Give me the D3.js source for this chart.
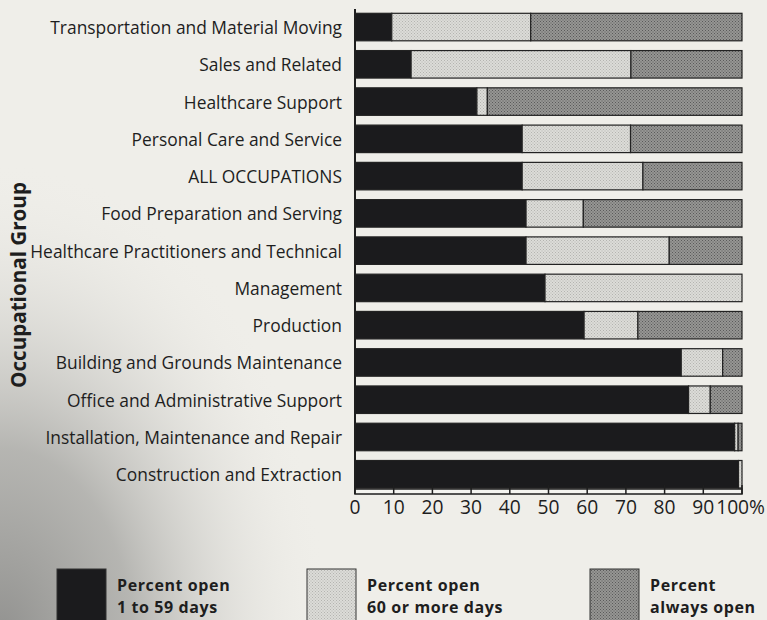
<!DOCTYPE html>
<html>
<head>
<meta charset="utf-8">
<script src="https://cdn.jsdelivr.net/npm/d3@7"></script>
<style>
  html, body { margin: 0; padding: 0; background: #efeee9; }
  svg { display: block; }
  text { font-family: "Open Sans", "DejaVu Sans", sans-serif; fill: #1e1e1e; }
</style>
</head>
<body>
<svg id="chart" width="767" height="620"></svg>
<script>
const categories = [
  "Transportation and Material Moving",
  "Sales and Related",
  "Healthcare Support",
  "Personal Care and Service",
  "ALL OCCUPATIONS",
  "Food Preparation and Serving",
  "Healthcare Practitioners and Technical",
  "Management",
  "Production",
  "Building and Grounds Maintenance",
  "Office and Administrative Support",
  "Installation, Maintenance and Repair",
  "Construction and Extraction"
];
const open1to59  = [9.5, 14.5, 31.5, 43.2, 43.2, 44.2, 44.2, 49.1, 59.2, 84.3, 86.2, 98.1, 99.1];
const open60plus = [35.9, 56.8, 2.7, 28.0, 31.2, 14.8, 37.0, 50.9, 13.9, 10.7, 5.6, 0.9, 0.9];
const alwaysOpen = [54.6, 28.7, 65.8, 28.8, 25.6, 41.0, 18.8, 0.0, 26.9, 5.0, 8.2, 1.0, 0.0];
const seriesKeys = ["open1to59", "open60plus", "alwaysOpen"];
const seriesLabels = [["Percent open", "1 to 59 days"], ["Percent open", "60 or more days"], ["Percent", "always open"]];
const tickValues = [0, 10, 20, 30, 40, 50, 60, 70, 80, 90, 100];
const axisTitle = "Occupational Group";

const svg = d3.select("#chart");
const defs = svg.append("defs");

// measure helper: font size so that a string reaches a target width
function fitSize(str, weight, target) {
  const t = svg.append("text").attr("font-size", 100).attr("font-weight", weight).text(str);
  const w = t.node().getComputedTextLength();
  t.remove();
  return 100 * target / w;
}
const labelSize = fitSize("Transportation and Material Moving", "normal", 292);
const tickSize = fitSize("20", "normal", 22);
const titleSize = fitSize(axisTitle, "bold", 206);
const legendSize = 16;

// background shading (scanned paper look)
const rg = defs.append("radialGradient").attr("id", "bgShade")
  .attr("gradientUnits", "userSpaceOnUse")
  .attr("cx", 0).attr("cy", 640).attr("r", 330)
  .attr("gradientTransform", "translate(0,640) scale(1,1.45) translate(0,-640)");
rg.append("stop").attr("offset", 0).attr("stop-color", "#8c8c8a").attr("stop-opacity", 0.95);
rg.append("stop").attr("offset", 0.4).attr("stop-color", "#9d9d9a").attr("stop-opacity", 0.7);
rg.append("stop").attr("offset", 1).attr("stop-color", "#efeee9").attr("stop-opacity", 0);
svg.append("rect").attr("width", 767).attr("height", 620).attr("fill", "#efeee9");
svg.append("rect").attr("width", 767).attr("height", 620).attr("fill", "url(#bgShade)");

// stipple patterns
function pattern(id, base, dot) {
  const p = defs.append("pattern").attr("id", id).attr("patternUnits", "userSpaceOnUse")
    .attr("width", 3).attr("height", 3);
  p.append("rect").attr("width", 3).attr("height", 3).attr("fill", base);
  p.append("rect").attr("x", 0).attr("y", 0).attr("width", 1).attr("height", 1).attr("fill", dot);
  p.append("rect").attr("x", 1.5).attr("y", 1.5).attr("width", 1).attr("height", 1).attr("fill", dot);
}
pattern("pLight", "#dcdcd8", "#b4b4b0");
pattern("pDark", "#969694", "#5a5a5a");
const fills = { open1to59: "#1b1b1d", open60plus: "url(#pLight)", alwaysOpen: "url(#pDark)" };

const x = d3.scaleLinear().domain([0, 100]).range([355, 742]);
const y = d3.scaleBand().domain(categories).range([13.3, 488]).paddingInner(0.262).paddingOuter(0);

const rows = categories.map((c, i) => ({
  category: c, open1to59: open1to59[i], open60plus: open60plus[i], alwaysOpen: alwaysOpen[i]
}));
const stacked = d3.stack().keys(seriesKeys)(rows);

const g = svg.append("g");
stacked.forEach(layer => {
  g.append("g").selectAll("rect").data(layer.filter(d => d[1] - d[0] > 0)).join("rect")
    .attr("x", d => x(d[0]))
    .attr("y", d => y(d.data.category))
    .attr("width", d => x(d[1]) - x(d[0]))
    .attr("height", y.bandwidth())
    .attr("fill", fills[layer.key])
    .attr("stroke", "#222")
    .attr("stroke-width", 1.2);
});

// category labels
svg.append("g").selectAll("text").data(categories).join("text")
  .attr("x", 342)
  .attr("y", d => y(d) + y.bandwidth() / 2)
  .attr("dy", "0.4em")
  .attr("text-anchor", "end")
  .attr("font-size", labelSize)
  .text(d => d);

// left axis line
svg.append("line").attr("x1", x(0)).attr("x2", x(0)).attr("y1", 9).attr("y2", 494)
  .attr("stroke", "#1e1e1e").attr("stroke-width", 2);

// bottom axis: thin double-line band with ticks
const axG = svg.append("g");
axG.append("rect").attr("x", x(0)).attr("y", 489).attr("width", x(100) - x(0)).attr("height", 5)
  .attr("fill", "#f4f4f0").attr("stroke", "#1e1e1e").attr("stroke-width", 1.5);
axG.selectAll("line.tick").data(tickValues).join("line")
  .attr("x1", d => x(d)).attr("x2", d => x(d))
  .attr("y1", 485).attr("y2", 494)
  .attr("stroke", "#1e1e1e").attr("stroke-width", 1.5);
axG.selectAll("text").data(tickValues).join("text")
  .attr("x", d => d === 100 ? 765 : x(d))
  .attr("y", 514)
  .attr("text-anchor", d => d === 100 ? "end" : "middle")
  .attr("font-size", tickSize)
  .text(d => d === 100 ? "100%" : String(d));

// y axis title
svg.append("text")
  .attr("transform", "translate(19,285) rotate(-90)")
  .attr("text-anchor", "middle")
  .attr("dy", "0.35em")
  .attr("font-size", titleSize)
  .attr("font-weight", "bold")
  .text(axisTitle);

// legend
const legX = [57, 307, 590];
const leg = svg.append("g");
seriesKeys.forEach((k, i) => {
  leg.append("rect").attr("x", legX[i]).attr("y", 569).attr("width", 49).attr("height", 60)
    .attr("fill", fills[k]).attr("stroke", "#333").attr("stroke-width", 1);
  seriesLabels[i].forEach((line, j) => {
    leg.append("text").attr("x", legX[i] + 60).attr("y", 591 + j * 22)
      .attr("font-size", legendSize).attr("font-weight", "bold")
      .attr("letter-spacing", 0.6)
      .text(line);
  });
});
</script>
</body>
</html>
